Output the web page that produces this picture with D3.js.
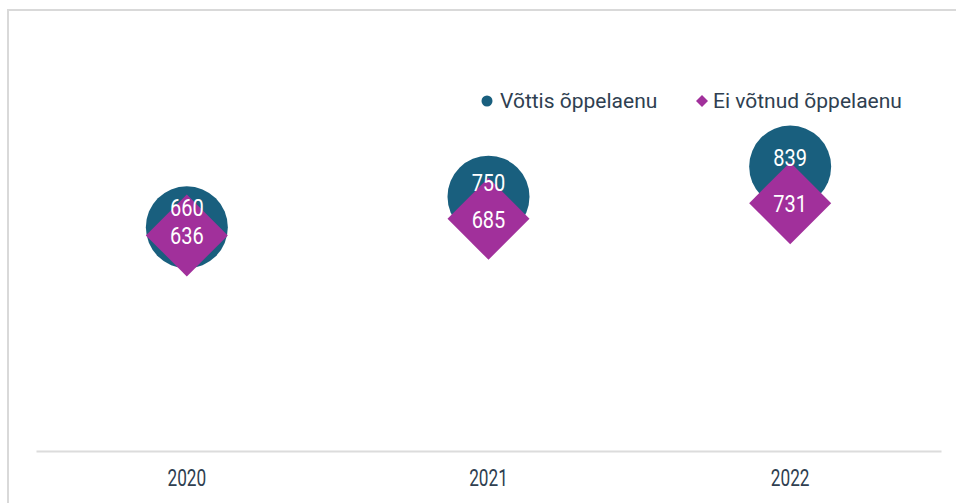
<!DOCTYPE html>
<html>
<head>
<meta charset="utf-8">
<script src="https://cdn.jsdelivr.net/npm/d3@7"></script>
<style>
  body { margin: 0; background: #fff; }
  text { font-family: Roboto, "Noto Sans", sans-serif; }
</style>
</head>
<body>
<div id="chart"></div>
<script>
var years = ["2020", "2021", "2022"];
var tookLoan = [660, 750, 839];
var noLoan = [636, 685, 731];
var seriesNames = ["Võttis õppelaenu", "Ei võtnud õppelaenu"];

var W = 956, H = 503;
var margin = { top: 112, right: 15, bottom: 52, left: 36 };
var blue = "#195f7e", purple = "#a1309b", ink = "#2f3f51";

var svg = d3.select("#chart").append("svg")
    .attr("width", W)
    .attr("height", H);

// frame lines (top + left only)
svg.append("path")
    .attr("d", "M8," + H + "V10H" + W)
    .attr("fill", "none")
    .attr("stroke", "#d9d9d9")
    .attr("stroke-width", 2);

var x = d3.scaleBand()
    .domain(years)
    .range([margin.left, W - margin.right])
    .padding(0);
var y = d3.scaleLinear()
    .domain([0, 1000])
    .range([H - margin.bottom, margin.top]);

// x axis
var xAxis = svg.append("g")
    .attr("transform", "translate(0," + (H - margin.bottom) + ")")
    .call(d3.axisBottom(x).tickSize(0));
xAxis.select(".domain").attr("stroke", "#dcdcdc").attr("stroke-width", 2);
xAxis.selectAll(".tick text")
    .style("font-size", "23px")
    .attr("fill", ink)
    .attr("y", 0)
    .attr("dy", 0)
    .attr("transform", "translate(0,27.5) scale(0.75,1)")
    .attr("dominant-baseline", "central");

var cx = function (i) { return x(years[i]) + x.bandwidth() / 2; };

// circles
svg.selectAll(".dot")
    .data(tookLoan)
    .enter().append("circle")
    .attr("class", "dot")
    .attr("cx", function (d, i) { return cx(i); })
    .attr("cy", function (d) { return y(d); })
    .attr("r", 41)
    .attr("fill", blue);

// diamonds
var dsize = 41;
svg.selectAll(".dia")
    .data(noLoan)
    .enter().append("path")
    .attr("class", "dia")
    .attr("d", "M0," + (-dsize) + "L" + dsize + ",0L0," + dsize + "L" + (-dsize) + ",0Z")
    .attr("transform", function (d, i) { return "translate(" + cx(i) + "," + y(d) + ")"; })
    .attr("fill", purple);

// labels
function label(data, cls, off) {
    svg.selectAll("." + cls)
        .data(data)
        .enter().append("text")
        .attr("class", cls)
        .attr("transform", function (d, i) {
            return "translate(" + cx(i) + "," + (y(d) + off(d, i)) + ") scale(0.87,1)";
        })
        .attr("text-anchor", "middle")
        .attr("dominant-baseline", "central")
        .style("font-size", "23px")
        .attr("fill", "#fff")
        .text(function (d) { return d; });
}
// circle label pushed up more when the diamond sits close underneath
label(tookLoan, "lab1", function (d, i) {
    var gap = y(noLoan[i]) - y(d);
    return -19 + 0.35 * (gap - 8);
});
label(noLoan, "lab2", function () { return 1; });

// legend
var lg = svg.append("g").attr("transform", "translate(0,101)");
lg.append("circle").attr("cx", 487).attr("cy", 0).attr("r", 5.5).attr("fill", blue);
lg.append("text").attr("x", 500).attr("dominant-baseline", "central")
    .style("font-size", "21px").attr("fill", ink).text(seriesNames[0]);
lg.append("path").attr("d", "M702,-6L708,0L702,6L696,0Z").attr("fill", purple);
lg.append("text").attr("x", 713).attr("dominant-baseline", "central")
    .style("font-size", "21px").attr("fill", ink).text(seriesNames[1]);
</script>
</body>
</html>
